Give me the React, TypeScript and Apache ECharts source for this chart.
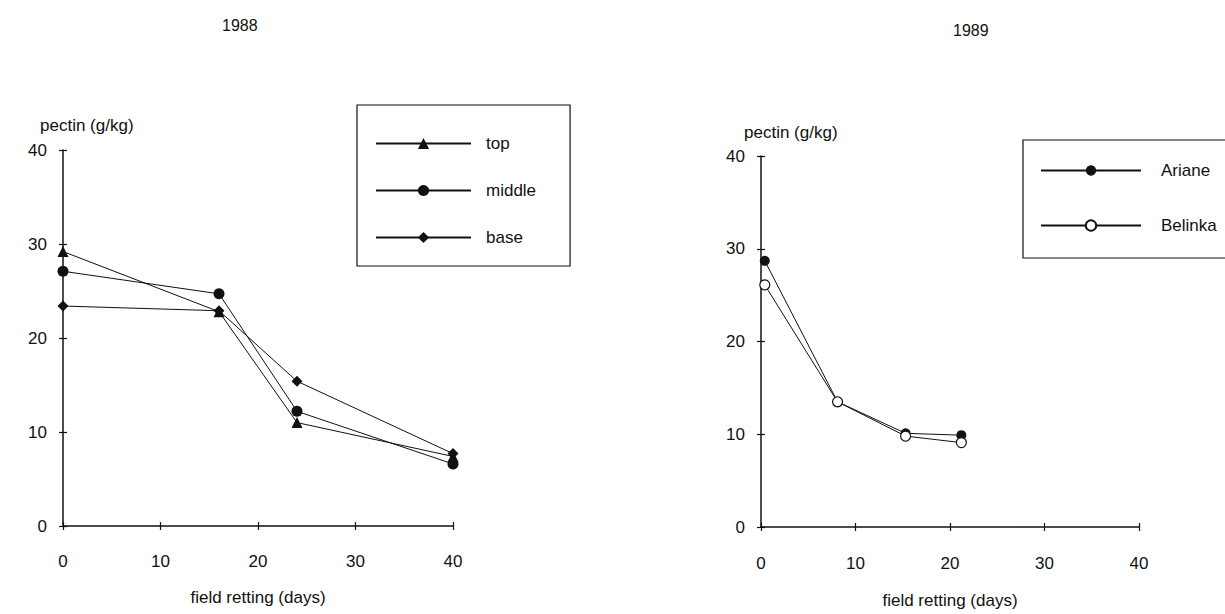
import React, { useEffect, useRef } from "react";
import * as echarts from "echarts";

// 1988 data
const daysLeft = [0, 16, 24, 40];
const topVals = [29.2, 22.8, 11.0, 7.4];
const middleVals = [27.1, 24.7, 12.2, 6.6];
const baseVals = [23.4, 22.9, 15.4, 7.7];

// 1989 data
const daysRight = [0.4, 8.1, 15.3, 21.2];
const arianeVals = [28.7, 13.5, 10.1, 9.9];
const belinkaVals = [26.1, 13.5, 9.8, 9.1];

const titles = ["1988", "1989"];
const yName = "pectin (g/kg)";
const xName = "field retting (days)";

const FONT = "Liberation Sans, Arial, Helvetica, sans-serif";
const INK = "#111";

const pairs = (xs: number[], ys: number[]) => xs.map((x, i) => [x, ys[i]]);

export default function App() {
  const ref = useRef<HTMLDivElement>(null);
  useEffect(() => {
    if (!ref.current) return;
    const chart = echarts.init(ref.current, undefined, { renderer: "svg" });

    const valueAxisX = (gridIndex: number, main: boolean, margin: number, nameGap: number) => ({
      type: "value",
      gridIndex,
      position: "bottom",
      min: 0,
      max: 40,
      interval: 10,
      name: main ? xName : "",
      nameLocation: "middle",
      nameGap,
      nameTextStyle: { fontFamily: FONT, fontSize: 17, color: INK },
      axisLine: { show: true, onZero: false, lineStyle: { color: INK, width: 1.5, opacity: main ? 1 : 0 } },
      axisTick: { show: true, inside: !main, length: 4, lineStyle: { color: INK, width: 1.2, opacity: 1 } },
      axisLabel: { show: main, margin, fontFamily: FONT, fontSize: 17, color: INK },
      splitLine: { show: false },
    });
    const valueAxisY = (gridIndex: number, main: boolean) => ({
      type: "value",
      gridIndex,
      position: "left",
      min: 0,
      max: 40,
      interval: 10,
      axisLine: { show: true, onZero: false, lineStyle: { color: INK, width: 1.5, opacity: main ? 1 : 0 } },
      axisTick: { show: true, inside: !main, length: 4, lineStyle: { color: INK, width: 1.2, opacity: 1 } },
      axisLabel: { show: main, margin: 16, fontFamily: FONT, fontSize: 17, color: INK },
      splitLine: { show: false },
    });

    const lineStyle = { color: INK, width: 1 };
    const option = {
      animation: false,
      backgroundColor: "#fff",
      grid: [
        { left: 63, right: 1225 - 453, top: 150, bottom: 614 - 526 },
        { left: 761, right: 1225 - 1139, top: 156, bottom: 614 - 531 },
      ],
      xAxis: [
        valueAxisX(0, true, 27, 63),
        valueAxisX(0, false, 0, 0),
        valueAxisX(1, true, 28, 65),
        valueAxisX(1, false, 0, 0),
      ],
      yAxis: [valueAxisY(0, true), valueAxisY(0, false), valueAxisY(1, true), valueAxisY(1, false)],
      legend: [
        {
          data: ["top", "middle", "base"],
          orient: "vertical",
          left: 357,
          top: 105,
          itemWidth: 95,
          itemHeight: 14,
          itemGap: 30,
          padding: [30, 34, 20, 18],
          borderColor: INK,
          borderWidth: 1.2,
          textStyle: { fontFamily: FONT, fontSize: 17, color: INK, padding: [0, 0, 0, 10] },
        },
        {
          data: ["Ariane", "Belinka"],
          orient: "vertical",
          left: 1023,
          top: 140,
          itemWidth: 100,
          itemHeight: 13,
          itemGap: 38,
          padding: [22, 140, 24, 17],
          borderColor: INK,
          borderWidth: 1.2,
          textStyle: { fontFamily: FONT, fontSize: 17, color: INK, padding: [0, 0, 0, 15] },
        },
      ],
      graphic: [
        { type: "text", left: 222, top: 17, style: { text: titles[0], font: `16px ${FONT}`, fill: INK } },
        { type: "text", left: 953, top: 22, style: { text: titles[1], font: `16px ${FONT}`, fill: INK } },
        { type: "text", left: 40, top: 117, style: { text: yName, font: `17px ${FONT}`, fill: INK } },
        { type: "text", left: 744, top: 124, style: { text: yName, font: `17px ${FONT}`, fill: INK } },
      ],
      series: [
        {
          name: "top",
          type: "line",
          xAxisIndex: 0,
          yAxisIndex: 0,
          data: pairs(daysLeft, topVals),
          symbol: "triangle",
          symbolSize: 11,
          itemStyle: { color: INK },
          lineStyle,
        },
        {
          name: "middle",
          type: "line",
          xAxisIndex: 0,
          yAxisIndex: 0,
          data: pairs(daysLeft, middleVals),
          symbol: "circle",
          symbolSize: 11,
          itemStyle: { color: INK },
          lineStyle,
        },
        {
          name: "base",
          type: "line",
          xAxisIndex: 0,
          yAxisIndex: 0,
          data: pairs(daysLeft, baseVals),
          symbol: "diamond",
          symbolSize: 11,
          itemStyle: { color: INK },
          lineStyle,
        },
        {
          name: "Ariane",
          type: "line",
          xAxisIndex: 2,
          yAxisIndex: 2,
          data: pairs(daysRight, arianeVals),
          symbol: "circle",
          symbolSize: 10,
          itemStyle: { color: INK },
          lineStyle,
        },
        {
          name: "Belinka",
          type: "line",
          xAxisIndex: 2,
          yAxisIndex: 2,
          data: pairs(daysRight, belinkaVals),
          symbol: "circle",
          symbolSize: 10,
          itemStyle: { color: "#fff", borderColor: INK, borderWidth: 1.2 },
          lineStyle,
        },
      ],
    };
    chart.setOption(option as any);
    return () => chart.dispose();
  }, []);
  return (
    <div
      ref={ref}
      style={{ position: "fixed", left: 0, top: 0, width: 1225, height: 614, background: "#fff" }}
    />
  );
}
